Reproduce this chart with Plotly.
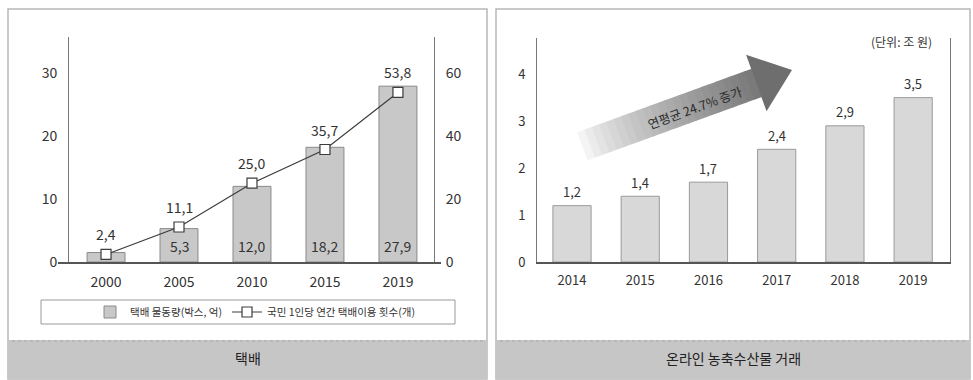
import math
import plotly.graph_objects as go

# ---- data -------------------------------------------------------------
parcel_years = ["2000", "2005", "2010", "2015", "2019"]
parcel_volume = [1.5, 5.3, 12.0, 18.2, 27.9]          # 택배 물동량 (박스, 억)
parcel_per_capita = [2.4, 11.1, 25.0, 35.7, 53.8]     # 국민 1인당 연간 택배이용 횟수 (개)

online_years = ["2014", "2015", "2016", "2017", "2018", "2019"]
online_sales = [1.2, 1.4, 1.7, 2.4, 2.9, 3.5]         # 온라인 농축수산물 거래 (조 원)

left_ticks = [0, 10, 20, 30]
right_ticks = [0, 20, 40, 60]
online_ticks = [0, 1, 2, 3, 4]

# ---- helpers ----------------------------------------------------------
W, H = 973, 380
FONT = "Noto Sans CJK KR"
TXT = "#333333"


def px(x):
    return x / W


def py(y):
    return 1 - y / H


def fmt(v):
    return f"{v:.1f}".replace(".", ",")


fig = go.Figure()

# left panel: parcel volume bars + per-capita line
fig.add_trace(go.Bar(
    x=parcel_years, y=parcel_volume, xaxis="x", yaxis="y",
    name="택배 물동량(박스, 억)", width=0.52,
    marker=dict(color="#c8c8c8", line=dict(color="#8a8a8a", width=1)),
))
fig.add_trace(go.Scatter(
    x=parcel_years, y=parcel_per_capita, xaxis="x", yaxis="y2",
    name="국민 1인당 연간 택배이용 횟수(개)", mode="lines+markers",
    line=dict(color="#3c3c3c", width=1.2),
    marker=dict(symbol="square", size=10, color="white",
                line=dict(color="#3c3c3c", width=1.2)),
))

# right panel: online sales bars
fig.add_trace(go.Bar(
    x=online_years, y=online_sales, xaxis="x2", yaxis="y3",
    showlegend=False, width=0.56,
    marker=dict(color="#d8d8d8", line=dict(color="#9a9a9a", width=1)),
))

annotations = []
# value labels (category axes are addressed by index)
for i, v in enumerate(parcel_volume):
    if i == 0:
        continue  # too short to hold a label
    annotations.append(dict(x=i, y=0, xref="x", yref="y", yshift=16,
                            xanchor="center", yanchor="middle",
                            text=fmt(v), showarrow=False,
                            font=dict(size=14, color=TXT, family=FONT)))
for i, v in enumerate(parcel_per_capita):
    annotations.append(dict(x=i, y=v, xref="x", yref="y2", yshift=20,
                            xanchor="center", yanchor="middle",
                            text=fmt(v), showarrow=False,
                            font=dict(size=14, color=TXT, family=FONT)))
for i, v in enumerate(online_sales):
    annotations.append(dict(x=i, y=v, xref="x2", yref="y3", yshift=14,
                            xanchor="center", yanchor="middle",
                            text=fmt(v), showarrow=False,
                            font=dict(size=13, color=TXT, family=FONT)))

# panel captions and notes
annotations += [
    dict(x=px(248), y=py(358), xref="paper", yref="paper", text="택배",
         xanchor="center", yanchor="middle", showarrow=False,
         font=dict(size=14, color="#222", family=FONT)),
    dict(x=px(733), y=py(358), xref="paper", yref="paper",
         xanchor="center", yanchor="middle",
         text="온라인 농축수산물 거래", showarrow=False,
         font=dict(size=14, color="#222", family=FONT)),
    dict(x=px(934), y=py(41), xref="paper", yref="paper",
         xanchor="right", yanchor="middle",
         text="(단위: 조 원)", showarrow=False,
         font=dict(size=12, color=TXT, family=FONT)),
    dict(x=px(694), y=py(107), xref="paper", yref="paper",
         xanchor="center", yanchor="middle",
         text="연평균 24.7% 증가", textangle=-20, showarrow=False,
         font=dict(size=12.5, color="#2a2a2a", family=FONT)),
]

shapes = []
# panel frames
for x0, x1 in [(8, 487), (496, 970)]:
    shapes.append(dict(type="rect", xref="paper", yref="paper",
                       x0=px(x0), x1=px(x1), y0=py(379), y1=py(9),
                       line=dict(color="#b8b8b8", width=1.5),
                       fillcolor="rgba(0,0,0,0)", layer="below"))
    shapes.append(dict(type="rect", xref="paper", yref="paper",
                       x0=px(x0), x1=px(x1), y0=py(379), y1=py(340),
                       line=dict(width=0), fillcolor="#c6c6c6", layer="below"))
    shapes.append(dict(type="line", xref="paper", yref="paper",
                       x0=px(x0 + 4), x1=px(x1 - 4), y0=py(341), y1=py(341),
                       line=dict(color="#a8a8a8", width=1, dash="dot"),
                       layer="below"))

# legend box
shapes.append(dict(type="rect", xref="paper", yref="paper",
                   x0=px(41), x1=px(455), y0=py(324), y1=py(300),
                   line=dict(color="#9a9a9a", width=1),
                   fillcolor="white", layer="below"))

# growth arrow, shaded from light to dark along its shaft
ang = math.radians(20)
d = (math.cos(ang), -math.sin(ang))
n = (math.sin(ang), math.cos(ang))
tip = (792, 70)
head_len, head_half, shaft_half, shaft_len = 38, 30, 15, 185
base = (tip[0] - head_len * d[0], tip[1] - head_len * d[1])


def pt(c, t, s):
    return (c[0] + t * d[0] + s * n[0], c[1] + t * d[1] + s * n[1])


def path(points):
    return "M " + " L ".join(f"{px(a):.5f},{py(b):.5f}" for a, b in points) + " Z"


nseg = 24
c0, c1 = 252, 120
for i in range(nseg):
    t0 = -shaft_len + shaft_len * i / nseg
    t1 = -shaft_len + shaft_len * (i + 1) / nseg + 0.6
    f = (i + 0.5) / nseg
    g = int(c0 + (c1 - c0) * f ** 0.75)
    pts = [pt(base, t0, -shaft_half), pt(base, t1, -shaft_half),
           pt(base, t1, shaft_half), pt(base, t0, shaft_half)]
    shapes.append(dict(type="path", xref="paper", yref="paper", path=path(pts),
                       fillcolor=f"rgb({g},{g},{g})", line=dict(width=0),
                       layer="below"))
head = [pt(base, 0, -head_half), tip, pt(base, 0, head_half)]
shapes.append(dict(type="path", xref="paper", yref="paper", path=path(head),
                   fillcolor="#6e6e6e", line=dict(width=0), layer="below"))

axis_common = dict(showgrid=False, zeroline=False, ticks="",
                   tickfont=dict(size=14, color=TXT, family=FONT),
                   fixedrange=True)

fig.update_layout(
    width=W, height=H,
    margin=dict(l=0, r=0, t=0, b=0, autoexpand=False),
    paper_bgcolor="white", plot_bgcolor="rgba(0,0,0,0)",
    font=dict(family=FONT, color=TXT),
    bargap=0.4,
    xaxis=dict(axis_common, domain=[px(58), px(441)], anchor="y",
               type="category", range=[-0.658, 4.59],
               showline=True, linecolor="#555", linewidth=1.5,
               ticklabelstandoff=6),
    yaxis=dict(axis_common, domain=[py(262), py(37)], anchor="free",
               position=px(68), range=[0, 35.7], tickvals=left_ticks,
               showline=True, linecolor="#777", linewidth=1,
               ticklabelstandoff=8),
    yaxis2=dict(axis_common, overlaying="y", side="right", anchor="free",
                position=px(434), range=[0, 71.4], tickvals=right_ticks,
                showline=True, linecolor="#777", linewidth=1,
                ticklabelstandoff=8),
    xaxis2=dict(axis_common, domain=[px(537), px(950)], anchor="y3",
                type="category", range=[-0.513, 5.54],
                showline=True, linecolor="#555", linewidth=1.5,
                tickfont=dict(size=13, color=TXT, family=FONT),
                ticklabelstandoff=6),
    yaxis3=dict(axis_common, domain=[py(262), py(38)], anchor="x2",
                range=[0, 4.77], tickvals=online_ticks,
                showline=True, linecolor="#777", linewidth=1, mirror=True,
                tickfont=dict(size=13, color=TXT, family=FONT),
                ticklabelstandoff=8),
    legend=dict(orientation="h", x=px(90), xanchor="left",
                y=py(312), yanchor="middle",
                font=dict(size=10.5, color=TXT, family=FONT),
                bgcolor="rgba(0,0,0,0)", borderwidth=0,
                itemwidth=30, traceorder="normal"),
    annotations=annotations,
    shapes=shapes,
)

fig.write_html("out.html")
